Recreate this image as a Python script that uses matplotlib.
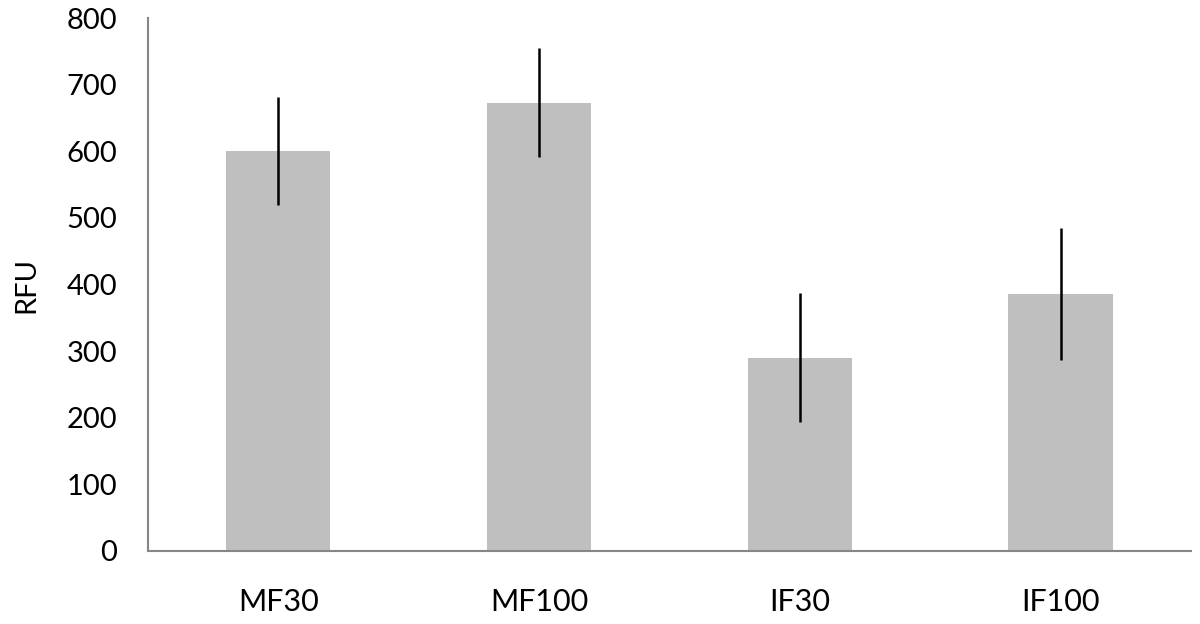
import matplotlib.pyplot as plt
import numpy as np

plt.rcParams['font.family'] = ['Lato', 'DejaVu Sans']

categories = ['MF30', 'MF100', 'IF30', 'IF100']
values = [601, 673, 290, 386]
errors = [81, 82, 97, 99]

fig = plt.figure(figsize=(12, 6.24), dpi=100)
ax = fig.add_axes([0.1233, 0.117, 0.8692, 0.854])

x = np.arange(len(categories))
ax.bar(x, values, width=0.4, color='#bfbfbf', zorder=2)
ax.errorbar(x, values, yerr=errors, fmt='none', ecolor='black', elinewidth=1.8, capsize=0, zorder=3)

ax.set_xlim(-0.5, 3.5)
ax.set_ylim(0, 800)
ax.set_yticks(range(0, 801, 100))
ax.set_xticks(x)
ax.set_xticklabels(categories)
ax.tick_params(axis='both', length=0, labelsize=21)
ax.tick_params(axis='x', labelsize=22, pad=27)
ax.tick_params(axis='y', pad=22)

for s in ['top', 'right']:
    ax.spines[s].set_visible(False)
for s in ['left', 'bottom']:
    ax.spines[s].set_color('#868686')
    ax.spines[s].set_linewidth(1.5)

ax.set_ylabel('RFU', fontsize=21, labelpad=20)

fig.savefig('out.png', dpi=100)
